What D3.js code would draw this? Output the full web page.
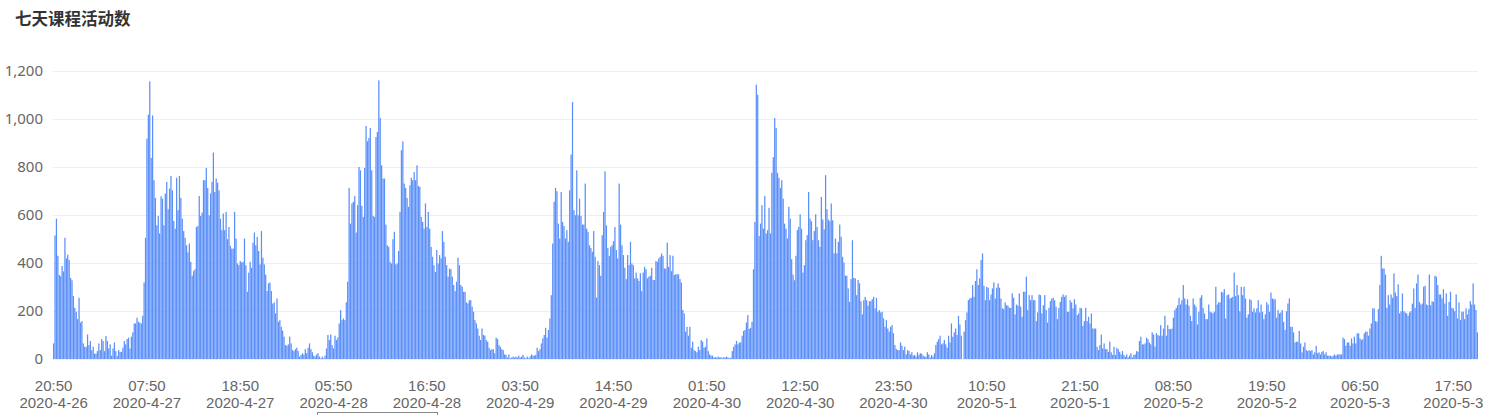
<!DOCTYPE html>
<html>
<head>
<meta charset="utf-8">
<script src="https://cdn.jsdelivr.net/npm/d3@7"></script>
<style>
  html, body { margin: 0; padding: 0; background: #fff; }
  #chart { width: 1498px; height: 415px; overflow: hidden; }
</style>
</head>
<body>
<div id="chart"></div>
<script>
'use strict';

const TITLE = '七天课程活动数';

// 10-minute buckets, each block starts at 20:50 and covers 24 hours
const day1 = [
  65,515,585,430,350,345,388,365,505,419,435,412,
  338,328,263,213,197,166,255,152,158,65,51,51,
  102,58,75,36,51,22,22,33,65,37,83,75,
  33,96,75,44,61,14,44,69,33,12,37,30,
  30,47,75,61,83,89,44,93,111,148,148,172,
  155,152,148,180,319,505,918,1018,1157,838,1015,745,
  671,557,596,523,678,668,557,689,738,624,710,763,
  703,575,543,755,620,763,671,585,533,505,474,444,
  481,405,347,366,374,550,554,679,596,610,745,745,
  796,713,599,690,738,860,696,752,735,703,585,537,
  606,537,613,499,550,472,460,460,613,502,398,391,
  408,402,405,502,391,280,360,405,380,485,527,474
];
const day2 = [
  509,450,394,533,422,394,352,283,315,319,283,231,
  236,190,252,155,162,134,118,93,58,55,61,93,
  65,37,33,41,47,33,10,17,24,19,41,24,
  47,65,41,28,14,10,19,24,10,3,10,3,
  14,44,100,79,102,58,44,97,79,89,148,204,
  162,169,162,236,322,713,564,648,655,679,527,641,
  800,786,638,592,796,971,907,921,963,786,596,592,
  925,946,1161,1004,807,752,752,560,474,467,405,398,
  499,530,394,398,450,613,870,907,731,713,671,634,
  724,755,745,779,745,807,721,717,592,571,543,648,
  550,613,543,467,426,391,363,454,398,433,419,533,
  488,426,391,343,377,374,343,308,283,322,422,391
];
const day3 = [
  308,301,280,280,236,231,245,245,218,197,162,148,
  127,97,79,127,100,97,79,72,47,37,41,41,
  24,89,83,58,51,41,37,19,17,6,19,3,
  6,10,6,10,6,14,6,10,17,6,3,10,
  3,10,19,14,14,17,47,33,41,65,86,100,
  130,89,121,169,266,481,655,713,699,564,502,696,
  571,554,502,537,488,703,852,1071,620,599,786,599,
  668,596,560,560,731,543,530,474,463,447,533,426,
  256,408,391,347,516,613,782,557,463,430,467,474,
  491,550,454,419,731,560,474,433,380,333,433,391,
  488,398,391,336,360,336,325,357,283,360,384,374,
  336,343,347,380,329,329,408,405,419,426,440,430
];
const day4 = [
  377,377,485,384,433,366,430,350,353,353,353,333,
  319,204,190,114,134,97,134,47,72,37,33,28,
  51,37,79,72,47,51,86,33,19,14,14,6,
  8,6,10,6,8,3,8,6,10,6,3,6,
  33,51,61,75,61,69,69,97,117,121,152,183,
  125,130,155,374,571,1143,1101,512,564,641,543,679,
  523,537,630,523,776,841,1004,963,776,755,713,745,
  668,564,543,502,634,585,416,352,328,430,537,550,
  603,543,360,391,495,516,696,585,574,495,533,603,
  550,495,467,675,581,540,766,624,581,574,648,578,
  440,502,440,488,560,509,426,402,347,347,294,238,
  333,495,338,336,266,329,315,241,186,245,259,245
];
const day5 = [
  222,241,241,249,259,211,255,197,204,194,197,169,
  134,162,127,114,134,141,107,58,41,37,37,69,
  55,37,51,19,37,33,19,28,14,17,10,28,
  17,24,22,14,10,10,28,19,6,17,10,24,
  58,72,83,97,61,65,79,61,47,97,69,148,
  93,111,127,100,180,144,97,0,114,162,194,245,
  252,255,308,259,325,374,308,336,412,440,305,245,
  301,297,245,269,294,319,252,297,315,297,252,211,
  208,236,224,222,213,213,273,255,186,227,222,273,
  218,176,280,280,343,204,266,245,266,245,245,158,
  194,269,266,190,224,266,204,152,213,241,252,255,
  245,218,166,213,238,259,269,259,266,197,197,245
];
const day6 = [
  236,211,249,227,183,190,213,211,138,158,213,158,
  176,148,190,127,127,127,51,37,58,102,44,65,
  41,41,30,72,28,17,51,17,47,41,30,19,
  33,17,10,19,6,14,24,6,17,19,33,30,
  75,93,61,61,65,89,83,69,61,111,102,51,
  107,100,97,141,97,127,180,97,141,125,124,127,
  172,204,213,224,255,227,245,308,252,227,249,222,
  180,158,252,227,218,144,197,255,266,213,190,166,
  166,227,197,194,190,197,301,227,236,236,280,277,
  291,169,266,269,252,255,259,360,262,308,266,199,
  301,266,301,252,172,186,249,245,197,211,194,211,
  245,194,227,197,166,186,236,227,197,277,252,249
];
const day7 = [
  249,172,204,190,194,204,155,121,199,231,252,134,
  134,111,69,72,72,117,65,28,51,69,37,33,
  37,33,37,19,28,55,24,28,19,30,33,19,
  28,14,14,14,10,14,19,14,19,19,19,19,
  89,83,55,69,69,55,86,65,93,65,107,107,
  86,79,83,107,114,114,97,127,148,211,211,158,
  155,208,308,430,377,377,352,213,266,227,269,255,
  357,277,262,311,190,199,273,199,194,190,180,194,
  199,231,294,213,315,352,238,227,231,301,305,227,
  224,352,224,241,238,347,343,308,269,269,252,291,
  231,273,180,238,280,213,211,199,269,169,236,162,
  197,197,166,211,186,208,241,227,315,227,204,111
];

// axis labels shown every 66 buckets (11 hours)
const tickTimes = ['20:50','07:50','18:50','05:50','16:50','03:50','14:50','01:50',
                   '12:50','23:50','10:50','21:50','08:50','19:50','06:50','17:50'];
const tickDates = ['2020-4-26','2020-4-27','2020-4-27','2020-4-28','2020-4-28','2020-4-29','2020-4-29','2020-4-30',
                   '2020-4-30','2020-4-30','2020-5-1','2020-5-1','2020-5-2','2020-5-2','2020-5-3','2020-5-3'];
const TICK_STEP = 66;
const yTicks = [0, 200, 400, 600, 800, 1000, 1200];

const values = [].concat(day1, day2, day3, day4, day5, day6, day7);
const data = values.map((v, i) => ({ idx: i, count: v }));

const W = 1498, H = 415;
const MARGIN = { top: 71, right: 20, bottom: 56, left: 53 };
const BAR_COLOR = '#5B8FF9';
const TITLE_FONT = "'Noto Sans CJK SC', sans-serif";
const LABEL_FONT = "'Noto Sans', sans-serif";
const XLABEL_FONT = "'Liberation Sans', Arial, sans-serif";

function drawChart() {
  const svg = d3.select('#chart').append('svg')
    .attr('width', W).attr('height', H);

  svg.append('text')
    .attr('x', 15).attr('y', 24.5)
    .style('font-family', TITLE_FONT)
    .style('font-size', '16.5px')
    .style('font-weight', 'bold')
    .attr('fill', '#333')
    .text(TITLE);

  const x = d3.scaleBand()
    .domain(data.map(d => d.idx))
    .range([MARGIN.left, W - MARGIN.right])
    .paddingInner(0.12)
    .paddingOuter(0);

  const y = d3.scaleLinear()
    .domain([0, 1200])
    .range([H - MARGIN.bottom, MARGIN.top]);

  // grid
  svg.append('g')
    .attr('class', 'grid')
    .attr('transform', `translate(${MARGIN.left},0)`)
    .call(d3.axisLeft(y).tickValues(yTicks).tickSize(-(W - MARGIN.right - MARGIN.left)).tickFormat(''))
    .call(g => g.select('.domain').remove())
    .call(g => g.selectAll('line').attr('stroke', '#efefef').attr('stroke-width', 1));

  // y labels
  svg.append('g')
    .attr('transform', `translate(${MARGIN.left - 7},0)`)
    .call(d3.axisLeft(y).tickValues(yTicks).tickSize(0).tickFormat(d3.format(',')))
    .call(g => g.select('.domain').remove())
    .call(g => g.selectAll('text')
      .style('font-family', LABEL_FONT)
      .style('font-size', '15px')
      .attr('fill', '#666'));

  // bars
  svg.append('g')
    .selectAll('rect')
    .data(data)
    .join('rect')
    .attr('x', d => x(d.idx))
    .attr('width', x.bandwidth())
    .attr('y', d => y(d.count))
    .attr('height', d => y(0) - y(d.count))
    .attr('fill', BAR_COLOR);

  // x labels: time on the first line, date below it
  const xTickVals = tickTimes.map((t, i) => i * TICK_STEP);
  const xAxis = svg.append('g')
    .attr('transform', `translate(0,${H - MARGIN.bottom})`)
    .call(d3.axisBottom(x).tickValues(xTickVals).tickSize(0).tickFormat(''))
    .call(g => g.select('.domain').remove());

  xAxis.selectAll('.tick').each(function (d, i) {
    const label = d3.select(this).append('text')
      .attr('y', 32).attr('fill', '#666')
      .attr('text-anchor', 'middle')
      .style('font-family', XLABEL_FONT)
      .style('font-size', '15px');
    label.append('tspan').attr('x', 0).text(tickTimes[i]);
    label.append('tspan').attr('x', 0).attr('dy', 17).text(tickDates[i]);
  });

  // slider box edge at the bottom
  svg.append('rect')
    .attr('x', 317.5).attr('y', 412.5)
    .attr('width', 120).attr('height', 20)
    .attr('fill', 'none')
    .attr('stroke', '#888');
}

drawChart();
</script>
</body>
</html>
